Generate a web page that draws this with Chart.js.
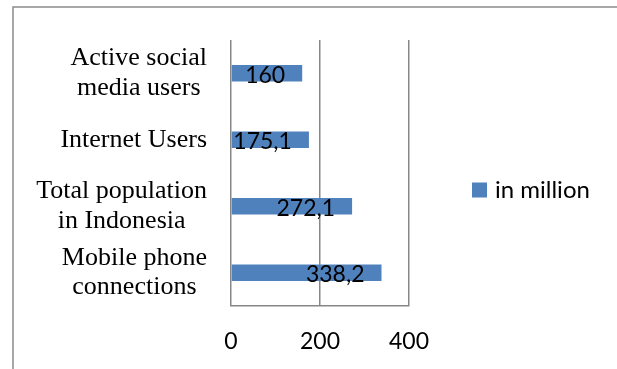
<!DOCTYPE html>
<html>
<head>
<meta charset="utf-8">
<script src="https://cdn.jsdelivr.net/npm/chart.js@4.4.0/dist/chart.umd.min.js"></script>
<style>
  html, body { margin: 0; padding: 0; background: #fff; }
</style>
</head>
<body>
<canvas id="chart" width="617" height="369"></canvas>
<script>
// data
const categories = [
  ["Active social", "media users"],
  ["Internet Users"],
  ["Total population", "in Indonesia"],
  ["Mobile phone", "connections"]
];
const values = [160, 175.1, 272.1, 338.2];
const valueLabels = ["160", "175,1", "272,1", "338,2"];
const xTicks = [0, 200, 400];
const seriesName = "in million";

const gridGrey = "#878787";
const barBlue = "#4f81bd";

// frame round the chart (left + top edges only are visible)
const framePlugin = {
  id: "frame",
  beforeDraw(chart) {
    const ctx = chart.ctx;
    ctx.save();
    ctx.fillStyle = "#fff";
    ctx.fillRect(0, 0, chart.width, chart.height);
    ctx.strokeStyle = "#8c8c8c";
    ctx.lineWidth = 1.5;
    ctx.beginPath();
    ctx.moveTo(13, chart.height);
    ctx.lineTo(13, 7);
    ctx.lineTo(chart.width, 7);
    ctx.stroke();
    ctx.restore();
  }
};

// category labels, each line centred, block right-aligned to the axis
const catLabelPlugin = {
  id: "catLabels",
  afterDraw(chart) {
    const ctx = chart.ctx;
    const yScale = chart.scales.y;
    const right = chart.chartArea.left - 24;
    const lineGap = 29.5;
    ctx.save();
    ctx.font = "26px 'Liberation Serif', 'Times New Roman', serif";
    ctx.fillStyle = "#000";
    ctx.textAlign = "center";
    ctx.textBaseline = "middle";
    categories.forEach((lines, i) => {
      const cy = yScale.getPixelForValue(i);
      const w = Math.max(...lines.map(l => ctx.measureText(l).width));
      const cx = right - w / 2;
      lines.forEach((l, k) => {
        ctx.fillText(l, cx, cy + (k - (lines.length - 1) / 2) * lineGap);
      });
    });
    ctx.restore();
  }
};

// value labels, right-aligned a little inside the bar end
const valueLabelPlugin = {
  id: "valueLabels",
  afterDatasetsDraw(chart) {
    const ctx = chart.ctx;
    const meta = chart.getDatasetMeta(0);
    ctx.save();
    ctx.font = "23px Lato, 'Open Sans', sans-serif";
    ctx.fillStyle = "#000";
    ctx.textAlign = "right";
    ctx.textBaseline = "middle";
    meta.data.forEach((bar, i) => {
      ctx.fillText(valueLabels[i], bar.x - 17, bar.y + 2);
    });
    ctx.restore();
  }
};

// legend on the right
const legendPlugin = {
  id: "sideLegend",
  afterDraw(chart) {
    const ctx = chart.ctx;
    const ds = chart.data.datasets[0];
    const area = chart.chartArea;
    const x = area.right + 63;
    const cy = 190;
    ctx.save();
    ctx.fillStyle = ds.backgroundColor;
    ctx.fillRect(x, cy - 7.5, 15, 15);
    ctx.font = "24px Lato, 'Open Sans', sans-serif";
    ctx.fillStyle = "#000";
    ctx.textAlign = "left";
    ctx.textBaseline = "middle";
    ctx.fillText(ds.label, x + 23, cy);
    ctx.restore();
  }
};

new Chart(document.getElementById("chart").getContext("2d"), {
  type: "bar",
  data: {
    labels: categories,
    datasets: [{
      label: seriesName,
      data: values,
      backgroundColor: barBlue,
      barPercentage: 0.25,
      categoryPercentage: 1
    }]
  },
  options: {
    indexAxis: "y",
    responsive: false,
    animation: false,
    layout: { padding: { left: 231, right: 208, top: 40, bottom: 13 } },
    plugins: {
      legend: { display: false },
      tooltip: { enabled: false }
    },
    scales: {
      x: {
        min: xTicks[0],
        max: xTicks[xTicks.length - 1],
        afterBuildTicks: s => { s.ticks = xTicks.map(v => ({ value: v })); },
        afterFit: s => { s.height = 50; },
        ticks: {
          color: "#000",
          font: { family: "Lato", size: 23 },
          padding: 22,
          maxRotation: 0
        },
        grid: { color: gridGrey, lineWidth: 1.5, drawTicks: false },
        border: { color: gridGrey, width: 1.5 }
      },
      y: {
        afterFit: s => { s.width = 0; },
        ticks: { display: false },
        grid: { display: false },
        border: { display: false }
      }
    }
  },
  plugins: [framePlugin, catLabelPlugin, valueLabelPlugin, legendPlugin]
});
</script>
</body>
</html>
